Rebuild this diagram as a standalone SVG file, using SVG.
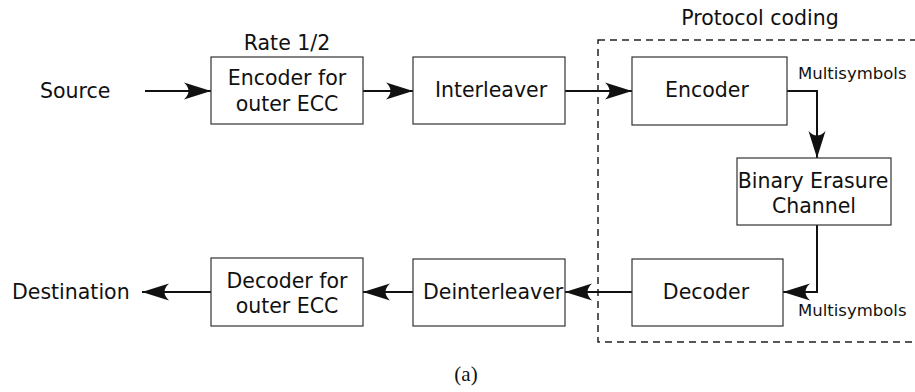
<svg xmlns="http://www.w3.org/2000/svg" width="915" height="392" viewBox="0 0 915 392">
<defs>
<style>
.box{fill:#fff;stroke:#333;stroke-width:1.2}
.t{font-family:"DejaVu Sans",sans-serif;font-size:20.5px;fill:#111}
.c{text-anchor:middle}
.s{font-family:"DejaVu Sans",sans-serif;font-size:16.5px;fill:#111}
.w{fill:none;stroke:#111;stroke-width:2}
</style>
<marker id="ah" markerUnits="userSpaceOnUse" viewBox="-28 -10 30 20" refX="0" refY="0" markerWidth="30" markerHeight="20" orient="auto">
<path d="M0,0 L-27,-8.5 Q-18,0 -27,8.5 Z" fill="#111"/>
</marker>
</defs>
<rect x="598" y="40" width="330" height="302" fill="none" stroke="#222" stroke-width="1.5" stroke-dasharray="7,5"/>
<text class="t c" x="760" y="25">Protocol coding</text>
<text class="t c" x="287" y="50">Rate 1/2</text>
<g id="connectors">
<path class="w" d="M145,91 H211" marker-end="url(#ah)"/>
<path class="w" d="M363,91 H413" marker-end="url(#ah)"/>
<path class="w" d="M565,91 H632" marker-end="url(#ah)"/>
<path class="w" d="M787,91 H817 V158" marker-end="url(#ah)"/>
<path class="w" d="M817,225 V292 H783" marker-end="url(#ah)"/>
<path class="w" d="M632,292 H565" marker-end="url(#ah)"/>
<path class="w" d="M413,292 H363" marker-end="url(#ah)"/>
<path class="w" d="M211,292 H142" marker-end="url(#ah)"/>
<text class="s" x="798" y="79">Multisymbols</text>
<text class="s" x="798" y="316">Multisymbols</text>
</g>
<g id="source"><text class="t" x="40" y="98">Source</text></g>
<g id="destination"><text class="t" x="12" y="299">Destination</text></g>
<g id="enc-outer">
<rect class="box" x="211" y="57" width="152" height="67"/>
<text class="t c" x="287" y="85">Encoder for</text>
<text class="t c" x="287" y="111">outer ECC</text>
</g>
<g id="interleaver">
<rect class="box" x="413" y="57" width="152" height="67"/>
<text class="t c" x="491" y="97">Interleaver</text>
</g>
<g id="encoder">
<rect class="box" x="632" y="57" width="155" height="68"/>
<text class="t c" x="707" y="97">Encoder</text>
</g>
<g id="bec">
<rect class="box" x="737" y="158" width="154" height="67"/>
<text class="t c" x="813" y="188">Binary Erasure</text>
<text class="t c" x="814" y="213">Channel</text>
</g>
<g id="decoder">
<rect class="box" x="632" y="259" width="151" height="67"/>
<text class="t c" x="706" y="299">Decoder</text>
</g>
<g id="deinterleaver">
<rect class="box" x="413" y="259" width="152" height="67"/>
<text class="t" x="423" y="299">Deinterleaver</text>
</g>
<g id="dec-outer">
<rect class="box" x="211" y="258" width="152" height="68"/>
<text class="t c" x="287" y="288">Decoder for</text>
<text class="t c" x="287" y="313">outer ECC</text>
</g>
<text x="466" y="381" text-anchor="middle" font-family="Liberation Serif, serif" font-size="21" fill="#111">(a)</text>
</svg>
